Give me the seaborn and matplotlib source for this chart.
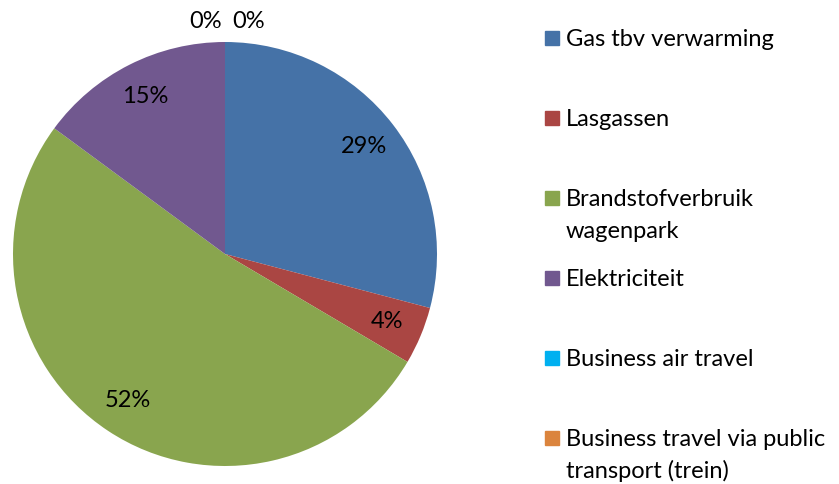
import matplotlib
matplotlib.use("Agg")
import matplotlib.pyplot as plt
import seaborn as sns
from matplotlib.patches import Rectangle

# data
categories = ["Gas tbv verwarming", "Lasgassen", "Brandstofverbruik\nwagenpark",
              "Elektriciteit", "Business air travel",
              "Business travel via public\ntransport (trein)"]
shares = [29.1, 4.4, 51.6, 14.9, 0.0, 0.0]
colors = ["#4572A7", "#AA4643", "#89A54E", "#71588F", "#00B0F0", "#DB843D"]

sns.set_theme(style="white")
plt.rcParams['font.family'] = ['Lato', 'DejaVu Sans']

W, H = 839, 484
fig = plt.figure(figsize=(W / 100, H / 100), dpi=100)

# pie centre ~ (225, 254) px, radius ~ 212 px
cx, cy, r = 225, 254, 212
ax = fig.add_axes([(cx - r) / W, (H - cy - r) / H, 2 * r / W, 2 * r / H])

wedges, texts, autotexts = ax.pie(
    shares, colors=colors, startangle=90, counterclock=False,
    autopct="%.0f%%", pctdistance=0.83, radius=1,
    wedgeprops=dict(linewidth=0),
    textprops=dict(fontsize=17, color="black"))
ax.set_xlim(-1, 1)
ax.set_ylim(-1, 1)
ax.set_aspect("equal")
ax.axis("off")

# zero slices: Excel puts their labels just outside the rim, side by side
zero_idx = [i for i, v in enumerate(shares) if v == 0]
for k, i in enumerate(zero_idx):
    t = autotexts[i]
    if k == 0:
        t.set_position((-0.015, 1.097))
        t.set_ha("right")
    else:
        t.set_position((0.035, 1.097))
        t.set_ha("left")

# legend, entries evenly spaced, marker aligned with first text line
leg_x, leg_y0, step, box, pitch = 545, 38, 80, 14, 31
for i, (lab, col) in enumerate(zip(categories, colors)):
    yc = leg_y0 + i * step
    fig.patches.append(Rectangle((leg_x / W, (H - yc - box / 2) / H),
                                 box / W, box / H, color=col,
                                 transform=fig.transFigure, figure=fig))
    for j, line in enumerate(lab.split("\n")):
        fig.text(566 / W, (H - yc - j * pitch) / H, line, fontsize=17,
                 va="center_baseline", ha="left", color="black")

fig.savefig("out.png", dpi=100)
